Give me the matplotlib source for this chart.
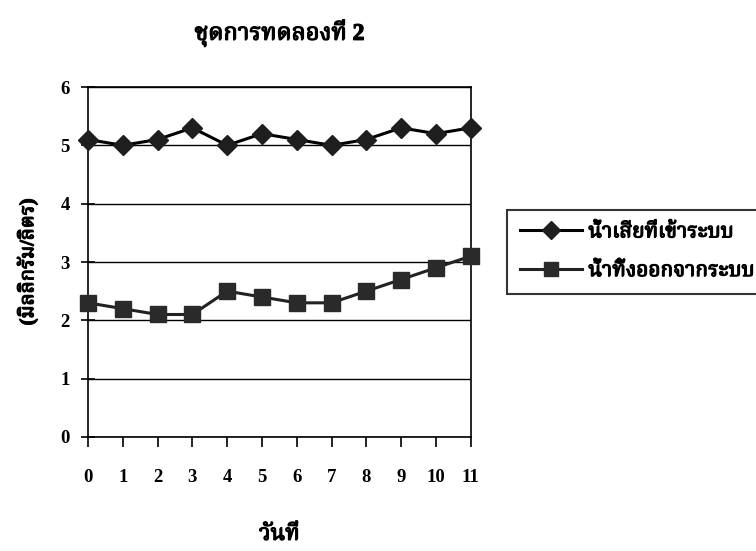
import matplotlib
matplotlib.use("Agg")
import matplotlib.pyplot as plt
import matplotlib.patheffects as pe
from matplotlib import font_manager as fm
from fontTools.ttLib import TTFont

days = list(range(12))
influent = [5.1, 5.0, 5.1, 5.3, 5.0, 5.2, 5.1, 5.0, 5.1, 5.3, 5.2, 5.3]
effluent = [2.3, 2.2, 2.1, 2.1, 2.5, 2.4, 2.3, 2.3, 2.5, 2.7, 2.9, 3.1]
series_names = ["น้ำเสียที่เข้าระบบ", "น้ำทิ้งออกจากระบบ"]
title = "ชุดการทดลองที่ 2"
xlabel = "วันที่"
ylabel = "(มิลลิกรัม/ลิตร)"


# find something installed that can draw Thai
def find_thai():
    found = []
    for f in fm.fontManager.ttflist:
        try:
            cmap = TTFont(f.fname, fontNumber=0, lazy=True).getBestCmap()
        except Exception:
            continue
        if cmap and 0x0E01 in cmap and 0x0E49 in cmap:
            score = 0
            if "Serif" in f.name:
                score += 2
            if "Looped" in f.name:
                score += 1
            found.append((score, f.name))
    found.sort(reverse=True)
    return found[0][1] if found else "DejaVu Sans"


thai = find_thai()
fam = ["Liberation Serif", thai, "DejaVu Sans"]
# the Thai face has no bold, so thicken it with a stroke
thick = [pe.withStroke(linewidth=0.9, foreground="black")]

fig = plt.figure(figsize=(7.56, 5.51), dpi=100)
ax = fig.add_axes([0.1164, 0.2069, 0.5062, 0.6352])

ax.plot(days, influent, color="black", lw=2.2, marker="D", ms=10,
        mfc="#1e1e1e", mec="#1e1e1e", label=series_names[0], clip_on=False, zorder=3)
ax.plot(days, effluent, color="#222222", lw=2.2, marker="s", ms=11,
        mfc="#2a2a2a", mec="#2a2a2a", label=series_names[1], clip_on=False, zorder=3)

ax.set_xlim(0, 11)
ax.set_ylim(0, 6)
ax.set_xticks(days)
ax.set_yticks(range(7))
ax.yaxis.grid(True, color="black", lw=1.0)
ax.set_axisbelow(True)
for s in ax.spines.values():
    s.set_linewidth(1.2)

ax.tick_params(axis="x", direction="out", length=7, width=1.2, pad=16)
ax.tick_params(axis="y", direction="inout", length=10, width=1.2, pad=8)
for lbl in ax.get_xticklabels() + ax.get_yticklabels():
    lbl.set_family(fam)
    lbl.set_fontweight("bold")
    lbl.set_fontsize(13.5)

ax.set_title(title, family=fam, fontweight="bold", fontsize=17, pad=34,
             path_effects=thick)
ax.set_xlabel(xlabel, family=fam, fontweight="bold", fontsize=16, labelpad=28,
              path_effects=thick)
ax.set_ylabel(ylabel, family=fam, fontweight="bold", fontsize=14.5, labelpad=16,
              path_effects=thick)

leg = ax.legend(loc="upper left", bbox_to_anchor=(1.095, 0.649),
                prop=fm.FontProperties(family=fam, weight="bold", size=15),
                frameon=True, fancybox=False, handlelength=3.0,
                borderpad=0.6, labelspacing=0.9, handletextpad=0.3,
                borderaxespad=0, markerscale=0.9)
leg.get_frame().set_edgecolor("black")
leg.get_frame().set_linewidth(1.5)
for t in leg.get_texts():
    t.set_path_effects(thick)

fig.savefig("out.png", dpi=100)
